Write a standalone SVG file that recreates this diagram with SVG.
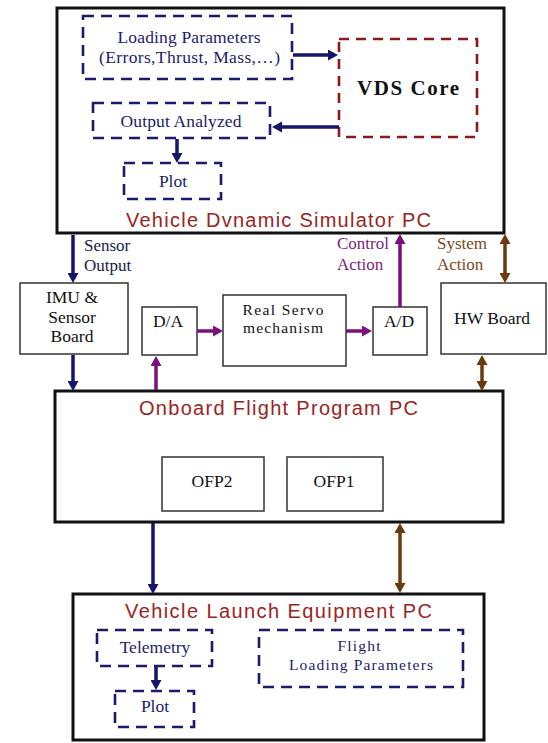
<svg xmlns="http://www.w3.org/2000/svg" width="548" height="743" viewBox="0 0 548 743">
<style>
.pc{fill:none;stroke:#111;stroke-width:3}
.box{fill:#fff;stroke:#333;stroke-width:1.5}
.dash{fill:none;stroke:#1a1a6e;stroke-width:2.6;stroke-dasharray:11 7}
.dashr{fill:none;stroke:#8b1a1a;stroke-width:2.6;stroke-dasharray:10 7}
.t{font-family:"Liberation Serif","Times New Roman",serif;font-size:17.5px;text-anchor:middle}
.s{font-size:15.5px}
.tn{fill:#1c1c6c}
.tb{fill:#111}
.title{font-family:"Liberation Sans",Arial,sans-serif;font-size:20px;fill:#9b2424}
.lab{font-family:"Liberation Serif","Times New Roman",serif;font-size:17px}
.navy{stroke:#15156b;stroke-width:3.5;fill:none}
.purple{stroke:#7b0f7b;stroke-width:3.5;fill:none}
.brown{stroke:#6b3a0c;stroke-width:3.5;fill:none}
</style>
<defs>
<marker id="an" viewBox="0 0 10 11" markerWidth="10" markerHeight="11" refX="5" refY="5.5" markerUnits="userSpaceOnUse" orient="auto-start-reverse"><path d="M0,0 L10,5.5 L0,11 z" fill="#15156b"/></marker>
<marker id="ap" viewBox="0 0 10 11" markerWidth="10" markerHeight="11" refX="5" refY="5.5" markerUnits="userSpaceOnUse" orient="auto-start-reverse"><path d="M0,0 L10,5.5 L0,11 z" fill="#7b0f7b"/></marker>
<marker id="ab" viewBox="0 0 10 11" markerWidth="10" markerHeight="11" refX="5" refY="5.5" markerUnits="userSpaceOnUse" orient="auto-start-reverse"><path d="M0,0 L10,5.5 L0,11 z" fill="#6b3a0c"/></marker>
</defs>
<rect width="548" height="743" fill="#fff"/>

<g id="vds-pc">
<rect class="pc" x="57" y="8" width="447" height="225" stroke-width="3.5"/>
<text class="title" x="278.5" y="227" text-anchor="middle" textLength="305" lengthAdjust="spacing">Vehicle Dvnamic Simulator PC</text>
</g>
<g id="loading-params">
<rect class="dash" x="83" y="16" width="209" height="63"/>
<text class="t tn" x="189" y="43" textLength="143" lengthAdjust="spacing">Loading Parameters</text>
<text class="t tn" x="189.5" y="63" textLength="181" lengthAdjust="spacing">(Errors,Thrust, Mass,…)</text>
</g>
<g id="vds-core">
<rect class="dashr" x="339" y="39" width="138" height="98"/>
<text x="408" y="95" text-anchor="middle" font-family="Liberation Serif,Times New Roman,serif" font-size="21" font-weight="bold" fill="#111" textLength="102" lengthAdjust="spacing">VDS Core</text>
</g>
<g id="output-analyzed">
<rect class="dash" x="93" y="103" width="177" height="35"/>
<text class="t tn" x="181" y="127" textLength="121" lengthAdjust="spacing">Output Analyzed</text>
</g>
<g id="plot-top">
<rect class="dash" x="124" y="163" width="97" height="36"/>
<text class="t tn" x="173" y="187">Plot</text>
</g>

<g id="imu">
<rect class="box" x="20" y="283" width="108" height="71"/>
<text class="t tb" x="72" y="303">IMU &amp;</text>
<text class="t tb" x="72" y="323">Sensor</text>
<text class="t tb" x="72" y="342">Board</text>
</g>
<g id="da">
<rect class="box" x="142" y="307" width="55" height="48"/>
<text class="t tb" x="168" y="327">D/A</text>
</g>
<g id="servo">
<rect class="box" x="223" y="295" width="123" height="71"/>
<text class="t s tb" x="283" y="315" textLength="81" lengthAdjust="spacing">Real Servo</text>
<text class="t s tb" x="283" y="333" textLength="80" lengthAdjust="spacing">mechanism</text>
</g>
<g id="ad">
<rect class="box" x="373" y="307" width="54" height="48"/>
<text class="t tb" x="399" y="327">A/D</text>
</g>
<g id="hw">
<rect class="box" x="441" y="283" width="105" height="71"/>
<text class="t tb" x="492" y="324">HW Board</text>
</g>

<g id="ofp-pc">
<rect class="pc" x="55" y="391" width="448" height="131"/>
<text class="title" x="278.5" y="415" text-anchor="middle" textLength="279" lengthAdjust="spacing">Onboard Flight Program PC</text>
</g>
<g id="ofp2">
<rect class="box" x="162" y="457" width="102" height="54"/>
<text class="t tb" x="212" y="487">OFP2</text>
</g>
<g id="ofp1">
<rect class="box" x="287" y="457" width="96" height="54"/>
<text class="t tb" x="334" y="487">OFP1</text>
</g>

<g id="vle-pc">
<rect class="pc" x="73" y="594" width="411" height="146"/>
<text class="title" x="278.5" y="618" text-anchor="middle" textLength="307" lengthAdjust="spacing">Vehicle Launch Equipment PC</text>
</g>
<g id="telemetry">
<rect class="dash" x="97" y="630" width="115" height="36"/>
<text class="t tn" x="155" y="653">Telemetry</text>
</g>
<g id="plot-bottom">
<rect class="dash" x="115" y="691" width="79" height="36"/>
<text class="t tn" x="155" y="712">Plot</text>
</g>
<g id="flight-loading">
<rect class="dash" x="259" y="630" width="204" height="57"/>
<text class="t s tn" x="359" y="651" textLength="43" lengthAdjust="spacing">Flight</text>
<text class="t s tn" x="361" y="670" textLength="144" lengthAdjust="spacing">Loading Parameters</text>
</g>

<g id="connectors">
<line class="navy" x1="293" y1="55" x2="333" y2="55" marker-end="url(#an)"/>
<line class="navy" x1="339" y1="127" x2="277" y2="127" marker-end="url(#an)"/>
<line class="navy" x1="177" y1="139" x2="177" y2="158" marker-end="url(#an)"/>
<line class="navy" x1="73" y1="235" x2="73" y2="278" marker-end="url(#an)"/>
<line class="navy" x1="73" y1="355" x2="73" y2="386" marker-end="url(#an)"/>
<line class="purple" x1="156" y1="390" x2="156" y2="361" marker-end="url(#ap)"/>
<line class="purple" x1="197" y1="331" x2="218" y2="331" marker-end="url(#ap)"/>
<line class="purple" x1="346" y1="331" x2="367" y2="331" marker-end="url(#ap)"/>
<line class="purple" x1="400" y1="307" x2="400" y2="239" marker-end="url(#ap)"/>
<line class="brown" x1="505" y1="239" x2="505" y2="278" marker-start="url(#ab)" marker-end="url(#ab)"/>
<line class="brown" x1="482" y1="360" x2="482" y2="386" marker-start="url(#ab)" marker-end="url(#ab)"/>
<line class="navy" x1="153" y1="523" x2="153" y2="589" marker-end="url(#an)"/>
<line class="brown" x1="400" y1="528" x2="400" y2="588" marker-start="url(#ab)" marker-end="url(#ab)"/>
<line class="navy" x1="156" y1="667" x2="156" y2="685" marker-end="url(#an)"/>
<text class="lab" x="84" y="251" fill="#1a1a4a">Sensor</text>
<text class="lab" x="84" y="271" fill="#1a1a4a">Output</text>
<text class="lab" x="337" y="249" fill="#7d1f7d">Control</text>
<text class="lab" x="337" y="270" fill="#7d1f7d">Action</text>
<text class="lab" x="437" y="249" fill="#7a4a1a">System</text>
<text class="lab" x="437" y="270" fill="#7a4a1a">Action</text>
</g>
</svg>
